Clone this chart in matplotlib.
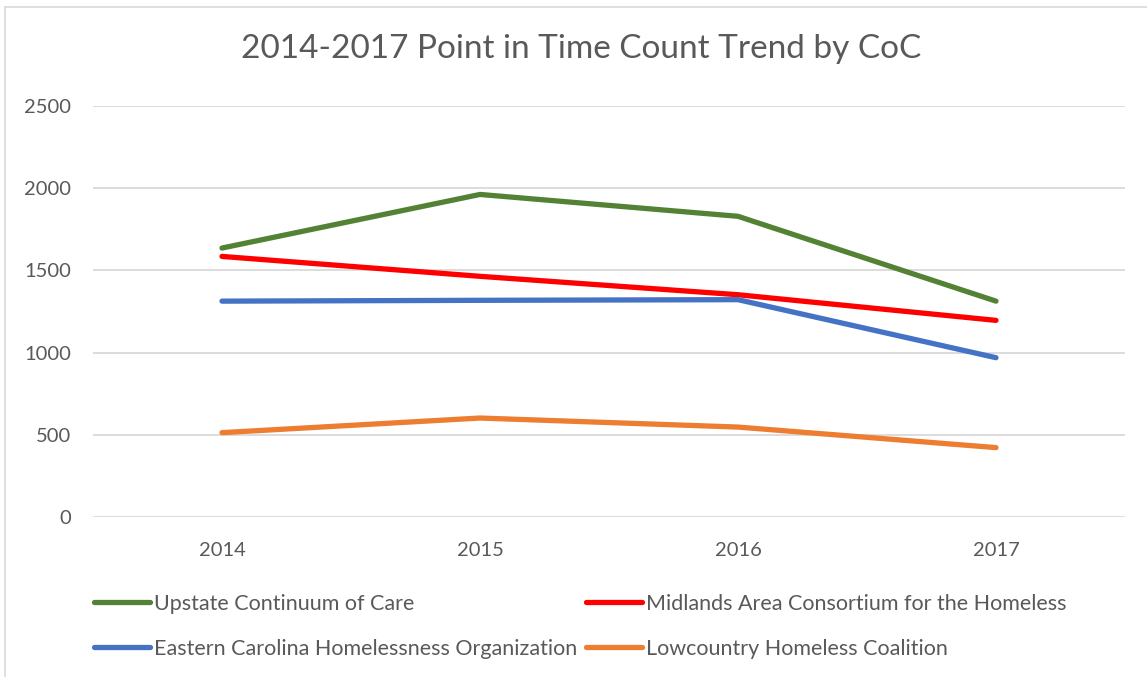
import matplotlib.pyplot as plt
from matplotlib.lines import Line2D

years = ['2014', '2015', '2016', '2017']
upstate = [1636, 1962, 1829, 1313]
midlands = [1585, 1464, 1352, 1196]
eastern = [1313, 1318, 1322, 969]
lowcountry = [513, 602, 547, 422]

series = [
    ('Upstate Continuum of Care', upstate, '#548235'),
    ('Midlands Area Consortium for the Homeless', midlands, '#FF0000'),
    ('Eastern Carolina Homelessness Organization', eastern, '#4472C4'),
    ('Lowcountry Homeless Coalition', lowcountry, '#ED7D31'),
]

plt.rcParams['font.family'] = ['Lato', 'DejaVu Sans']
text_color = '#595959'

fig = plt.figure(figsize=(11.47, 6.77), dpi=100)
ax = fig.add_axes([93 / 1147, 160 / 677, 1032 / 1147, 411 / 677])

x = range(len(years))
lines = {}
for name, vals, color in series:
    ln, = ax.plot(x, vals, color=color, lw=3.8, solid_capstyle='round',
                  label=name, zorder=3)
    lines[name] = ln

ax.set_xlim(-0.5, 3.5)
ax.set_ylim(0, 2500)
ax.set_yticks(range(0, 2501, 500))
ax.set_xticks(list(x))
ax.set_xticklabels(years)
ax.grid(axis='y', color='#D9D9D9', lw=1.3)
ax.set_axisbelow(True)
for s in ax.spines.values():
    s.set_visible(False)
ax.tick_params(length=0, labelsize=14.5, colors=text_color)
ax.tick_params(axis='y', pad=16)
ax.tick_params(axis='x', pad=18)

fig.text(0.507, 1 - 49 / 677, '2014-2017 Point in Time Count Trend by CoC',
         ha='center', va='center', fontsize=24, color=text_color)

order = ['Upstate Continuum of Care', 'Eastern Carolina Homelessness Organization',
         'Midlands Area Consortium for the Homeless', 'Lowcountry Homeless Coalition']
leg = fig.legend([lines[n] for n in order], order, ncol=2,
                 loc='upper left', bbox_to_anchor=(85 / 1147, 1 - 585 / 677),
                 frameon=False, fontsize=15.5, handlelength=2.6, handletextpad=0.2,
                 columnspacing=0.4, labelspacing=1.16, borderaxespad=0)
for t in leg.get_texts():
    t.set_color(text_color)

# chart frame
fig.add_artist(Line2D([5 / 1147, 5 / 1147], [0, 1 - 7 / 677], color='#D9D9D9', lw=1.2))
fig.add_artist(Line2D([5 / 1147, 1], [1 - 7 / 677, 1 - 7 / 677], color='#D9D9D9', lw=1.2))

fig.savefig('out.png', dpi=100)
